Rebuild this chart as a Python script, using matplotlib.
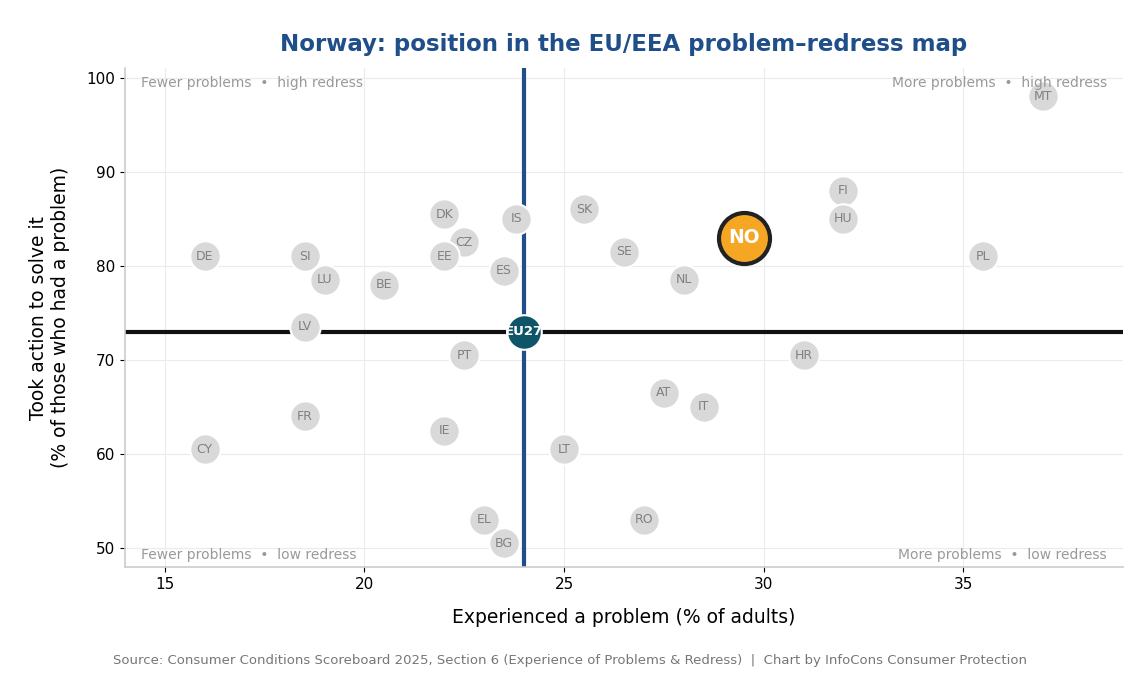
import matplotlib
matplotlib.use("Agg")
import matplotlib.pyplot as plt

countries = ["DE","SI","LU","BE","DK","CZ","EE","ES","IS","SK","SE","NL","FI","HU","PL","MT",
             "LV","PT","HR","AT","IT","FR","IE","CY","LT","EL","RO","BG"]
problems = [16,18.5,19,20.5,22,22.5,22,23.5,23.8,25.5,26.5,28,32,32,35.5,37,
            18.5,22.5,31,27.5,28.5,18.5,22,16,25,23,27,23.5]
redress = [81,81,78.5,78,85.5,82.5,81,79.5,85,86,81.5,78.5,88,85,81,98,
           73.5,70.5,70.5,66.5,65,64,62.5,60.5,60.5,53,53,50.5]
no_label, no_x, no_y = "NO", 29.5, 83
eu_label, eu_x, eu_y = "EU27", 24, 73

fig = plt.figure(figsize=(11.4, 6.75), dpi=100)
ax = fig.add_axes([0.1096, 0.16, 0.8754, 0.739])
ax.set_xlim(14, 39)
ax.set_ylim(48, 101)
ax.grid(True, color="#ebebeb", linewidth=0.8, zorder=0)
ax.set_axisbelow(True)
for s in ["top", "right"]:
    ax.spines[s].set_visible(False)
for s in ["left", "bottom"]:
    ax.spines[s].set_color("#cccccc")
    ax.spines[s].set_linewidth(1.2)

ax.axvline(eu_x, color="#1f4e89", linewidth=3, zorder=1)
ax.axhline(eu_y, color="#111111", linewidth=3, zorder=1)

ax.scatter(problems, redress, s=480, color="#d9d9d9", edgecolor="white", linewidth=1.5, zorder=3)
for c, x, y in zip(countries, problems, redress):
    ax.text(x, y, c, ha="center", va="center", fontsize=9, color="#808080", zorder=4)

ax.scatter([eu_x], [eu_y], s=620, color="#0e5567", edgecolor="white", linewidth=1.5, zorder=5)
ax.text(eu_x, eu_y, eu_label, ha="center", va="center", fontsize=9.5, color="white", fontweight="bold", zorder=6)

ax.scatter([no_x], [no_y], s=1350, color="#f5a623", edgecolor="#222222", linewidth=3, zorder=7)
ax.text(no_x, no_y, no_label, ha="center", va="center", fontsize=13.5, color="white", fontweight="bold", zorder=8)

kw = dict(fontsize=10, color="#999999", transform=ax.transAxes)
ax.text(0.016, 0.985, "Fewer problems  •  high redress", ha="left", va="top", **kw)
ax.text(0.984, 0.985, "More problems  •  high redress", ha="right", va="top", **kw)
ax.text(0.016, 0.01, "Fewer problems  •  low redress", ha="left", va="bottom", **kw)
ax.text(0.984, 0.01, "More problems  •  low redress", ha="right", va="bottom", **kw)

ax.set_xticks([15, 20, 25, 30, 35])
ax.set_yticks([50, 60, 70, 80, 90, 100])
ax.tick_params(labelsize=11)
ax.set_xlabel("Experienced a problem (% of adults)", fontsize=13.5, labelpad=12)
ax.set_ylabel("Took action to solve it\n(% of those who had a problem)", fontsize=13.5, labelpad=12)
ax.set_title("Norway: position in the EU/EEA problem–redress map", fontsize=16.5,
             fontweight="bold", color="#1f4e89", pad=12.5)

fig.text(0.5, 0.022, "Source: Consumer Conditions Scoreboard 2025, Section 6 (Experience of Problems & Redress)  |  Chart by InfoCons Consumer Protection",
         ha="center", va="center", fontsize=9.5, color="#777777")

fig.savefig("out.png", dpi=100)
